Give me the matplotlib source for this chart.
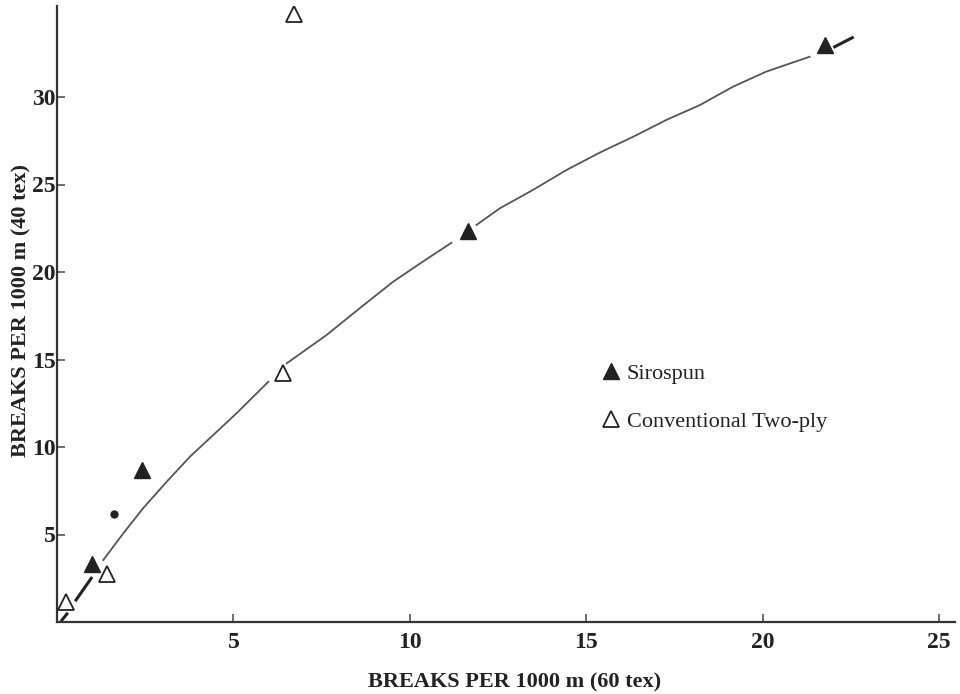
import numpy as np
import matplotlib
matplotlib.use('Agg')
import matplotlib.pyplot as plt
from matplotlib.lines import Line2D

# points
siro_x = [0.98, 2.40, 11.64, 21.77]
siro_y = [3.30, 8.69, 22.34, 32.97]
conv_x = [0.25, 1.41, 6.40, 6.73]
conv_y = [1.16, 2.72, 14.23, 34.74]
dot_x = [1.61]
dot_y = [6.17]

# hand-drawn curve, read point by point; nan = gap next to a marker
curve_x = [1.31, 1.88, 2.44, 3.11, 3.77, 4.43, 5.09, 5.99, np.nan,
           6.51, 7.64, 8.58, 9.53, 10.47, 11.18, np.nan,
           11.89, 12.55, 13.49, 14.44, 15.38, 16.33, 17.27, 18.22,
           19.16, 20.10, 21.33]
curve_y = [3.54, 5.07, 6.50, 8.02, 9.45, 10.69, 11.93, 13.73, np.nan,
           14.78, 16.40, 17.93, 19.45, 20.73, 21.67, np.nan,
           22.69, 23.64, 24.69, 25.83, 26.82, 27.73, 28.69, 29.54,
           30.59, 31.45, 32.30]
# short dashes at the ends of the curve
dash_x = [0.14, 0.28, np.nan, 0.54, 0.97, np.nan, 22.04, 22.54]
dash_y = [0.11, 0.46, np.nan, 1.26, 2.50, np.nan, 32.87, 33.39]

xticks = [5, 10, 15, 20, 25]
yticks = [5, 10, 15, 20, 25, 30]

plt.rcParams['font.family'] = ['Liberation Serif', 'DejaVu Serif']

fig = plt.figure(figsize=(9.6, 6.94), dpi=100)
ax = fig.add_axes([57/960, 1-622/694, (955-57)/960, (622-6)/694])

ink = '#222222'
ax.plot(curve_x, curve_y, color='#555555', lw=1.3)
ax.plot(dash_x, dash_y, color=ink, lw=2.2)
ax.plot(siro_x, siro_y, linestyle='none', marker='^', ms=11,
        color=ink, mec=ink)
ax.plot(conv_x, conv_y, linestyle='none', marker='^', ms=11,
        mfc='white', mec=ink, mew=1.3)
ax.plot(dot_x, dot_y, linestyle='none', marker='o', ms=5, color=ink)

ax.set_xlim(0, 25.45)
ax.set_ylim(0, 35.2)
ax.set_xticks(xticks)
ax.set_yticks(yticks)

for s in ['top', 'right']:
    ax.spines[s].set_visible(False)
for s in ['left', 'bottom']:
    ax.spines[s].set_color('#333333')
    ax.spines[s].set_linewidth(1.6)

ax.tick_params(direction='in', length=6, width=1.2, color='#555555',
               labelsize=17, labelcolor=ink)
ax.tick_params(axis='x', pad=7)
ax.tick_params(axis='y', pad=1)
for lab in ax.get_xticklabels() + ax.get_yticklabels():
    lab.set_fontweight('bold')

ax.set_xlabel('BREAKS PER 1000 m (60 tex)', fontsize=16, fontweight='bold',
              color=ink)
ax.xaxis.set_label_coords(0.51, -50/616)
ax.set_ylabel('BREAKS PER 1000 m (40 tex)', fontsize=16, fontweight='bold',
              color=ink)
ax.yaxis.set_label_coords(-26/898, 0.505)

handles = [
    Line2D([], [], linestyle='none', marker='^', ms=11, color=ink),
    Line2D([], [], linestyle='none', marker='^', ms=11, mfc='white',
           mec=ink, mew=1.3),
]
ax.legend(handles, ['Sirospun', 'Conventional Two-ply'], loc='upper left',
          bbox_to_anchor=(591/960, 1-352/694), bbox_transform=fig.transFigure,
          frameon=False, fontsize=16, handlelength=0.8, handletextpad=0.3,
          labelspacing=1.25, borderpad=0, labelcolor=ink)

fig.savefig('out.png', dpi=100, facecolor='white')
